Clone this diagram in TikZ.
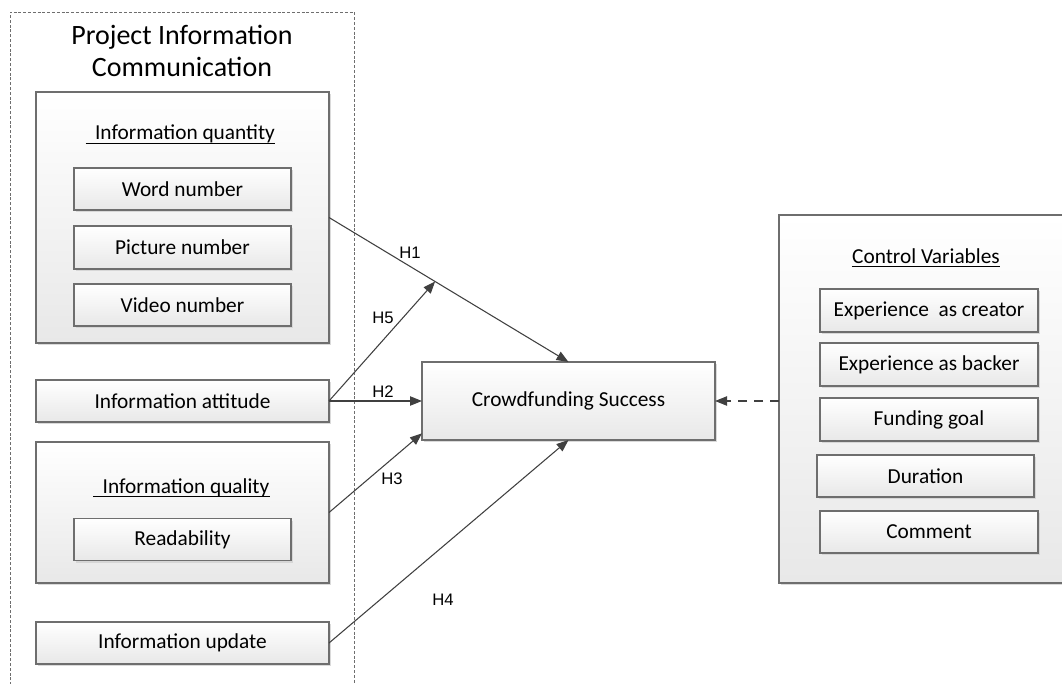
\documentclass[tikz,border=0pt]{standalone}
\usepackage{fontspec}
\setmainfont{Carlito}
\newfontfamily\hfont{Liberation Sans}
\usetikzlibrary{shadows,arrows.meta,calc}
\definecolor{bordergray}{HTML}{6E6E6E}
\definecolor{linegray}{HTML}{404040}
\definecolor{shadegray}{HTML}{E8E8E8}
\tikzset{
  box/.style 2 args={draw=bordergray, line width=0.8pt, top color=white, bottom color=shadegray,
    drop shadow={shadow xshift=1.6pt, shadow yshift=-1.6pt, fill=black!18, opacity=0.8},
    minimum width=#1*0.75pt, minimum height=#2*0.75pt, inner sep=0pt, outer sep=0pt,
    font=\fontsize{16}{19}\selectfont},
  head/.style={inner sep=0pt, font=\fontsize{16}{19}\selectfont},
  hl/.style={inner sep=0pt, font=\hfont\fontsize{12.5}{14}\selectfont, text=black},
  conn/.style={draw=linegray, line width=0.8pt, -{Triangle[length=9pt,width=7pt]}},
}
\begin{document}
\begin{tikzpicture}[x=0.75pt,y=-0.75pt]
\useasboundingbox (0,0) rectangle (1062,684);
% dashed frame
\draw[bordergray, line width=0.6pt, dash pattern=on 2.2pt off 1.4pt] (10,690) -- (10,12) -- (354,12) -- (354,690);
\node[align=center, inner sep=0pt, font=\fontsize{21}{23.5}\selectfont] (title) at (182,51) {Project Information\\Communication};

% left column
\node[box={293}{251}] (iq) at (182.5,217.5) {};
\node[head, anchor=base] (iqt) at (185,140) {Information quantity};
\draw[black, line width=0.7pt] ([xshift=-7pt,yshift=-2.6pt]iqt.base west) -- ([yshift=-2.6pt]iqt.base east);
\node[box={217}{42}] (wn) at (182.5,189) {Word number};
\node[box={217}{43}] (pn) at (182.5,247.5) {Picture number};
\node[box={217}{42}] (vn) at (182.5,305) {Video number};

\node[box={293}{42}] (ia) at (182.5,401) {Information attitude};

\node[box={293}{141}] (iql) at (182.5,512.5) {};
\node[head, anchor=base] (iqlt) at (186,493) {Information quality};
\draw[black, line width=0.7pt] ([xshift=-7pt,yshift=-2.6pt]iqlt.base west) -- ([yshift=-2.6pt]iqlt.base east);
\node[box={217}{42}] (rd) at (182.5,539.5) {Readability};

\node[box={293}{42}] (iu) at (182.5,643) {Information update};

% centre
\node[box={293}{78}] (cs) at (568.5,401) {Crowdfunding Success};

% control variables
\node[box={300}{368}] (cv) at (929,399) {};
\node[head, anchor=base] (cvt) at (926,263) {Control Variables};
\draw[black, line width=0.7pt] ([yshift=-2.6pt]cvt.base west) -- ([yshift=-2.6pt]cvt.base east);
\node[box={218}{43}] (ec) at (929,310.5) {Experience\ \ as creator};
\node[box={218}{43}] (eb) at (929,364.5) {Experience as backer};
\node[box={218}{43}] (fg) at (929,419.5) {Funding goal};
\node[box={217}{42}] (du) at (925.5,476) {Duration};
\node[box={218}{42}] (cm) at (929,532) {Comment};

% connectors
\coordinate (m) at ($(iq.east)!0.443!(cs.north)$);
\draw[conn] (iq.east) -- (cs.north);
\draw[conn] (ia.east) -- (m);
\draw[conn] (ia.east) -- (cs.west);
\draw[conn] (iql.east) -- ([yshift=5pt]cs.south west);
\draw[conn] (iu.east) -- (cs.south);
\draw[draw=linegray, line width=0.8pt, dash pattern=on 7pt off 5pt, -{Triangle[length=9pt,width=7pt]}] (cv.west |- cs.east) -- (cs.east);

% labels
\node[hl] (h1) at (410,253) {H1};
\node[hl] (h5) at (383,318) {H5};
\node[hl] (h2) at (383,392) {H2};
\node[hl] (h3) at (392,479) {H3};
\node[hl] (h4) at (443,600) {H4};
\end{tikzpicture}
\end{document}
